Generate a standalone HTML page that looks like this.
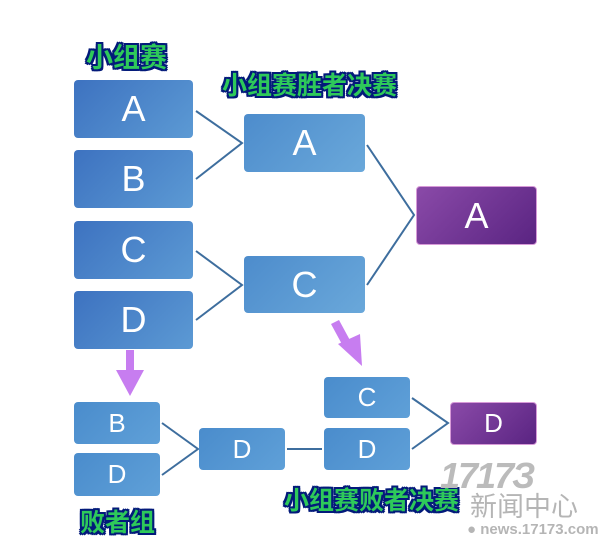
<!DOCTYPE html>
<html><head><meta charset="utf-8"><style>
body{margin:0;width:610px;height:556px;background:#fff;position:relative;overflow:hidden;font-family:"Liberation Sans","Noto Sans CJK SC",sans-serif}
.b{position:absolute;color:#fff;display:flex;align-items:center;justify-content:center;border-radius:4px;background:linear-gradient(135deg,#3d72c0,#5c9ad4);font-size:36px}
.m{background:linear-gradient(135deg,#4d8ccc,#6aa8da)}
.s{font-size:26px;background:linear-gradient(135deg,#4a8ccc,#5fa0d8)}
.p{background:linear-gradient(135deg,#8a4aa8,#5a2482);border:1px solid #d79ad8}
.t{position:absolute;font-weight:bold;color:#2ec95a;font-family:"Noto Sans CJK SC",sans-serif;white-space:nowrap;
text-shadow:2px 0 #031a7a,-2px 0 #031a7a,0 2px #031a7a,0 -2px #031a7a,2px 2px #031a7a,-2px -2px #031a7a,2px -2px #031a7a,-2px 2px #031a7a}
</style></head><body>
<svg width="610" height="556" style="position:absolute;left:0;top:0">
<g stroke="#3e6e9e" stroke-width="2" fill="none">
<polyline points="196,111 242,143 196,179"/>
<polyline points="196,251 242,285 196,320"/>
<polyline points="367,145 414,215 367,285"/>
<polyline points="162,423 198,449 162,475"/>
<line x1="287" y1="449" x2="322" y2="449"/>
<polyline points="412,398 448,423 412,449"/>
</g>
<g fill="#c77df0">
<rect x="126" y="350" width="8" height="22"/><polygon points="116,370 144,370 130,396"/>
<polygon points="331,324 339,320 352,344 344,348"/><polygon points="338,344 360,334 362,366"/>
</g>
</svg>
<div class="b" style="left:74px;top:80px;width:119px;height:58px">A</div>
<div class="b" style="left:74px;top:150px;width:119px;height:58px">B</div>
<div class="b" style="left:74px;top:221px;width:119px;height:58px">C</div>
<div class="b" style="left:74px;top:291px;width:119px;height:58px">D</div>
<div class="b m" style="left:244px;top:114px;width:121px;height:58px">A</div>
<div class="b m" style="left:244px;top:256px;width:121px;height:57px">C</div>
<div class="b p" style="left:416px;top:186px;width:119px;height:57px">A</div>
<div class="b s" style="left:74px;top:402px;width:86px;height:42px">B</div>
<div class="b s" style="left:74px;top:453px;width:86px;height:43px">D</div>
<div class="b s" style="left:199px;top:428px;width:86px;height:42px">D</div>
<div class="b s" style="left:324px;top:377px;width:86px;height:41px">C</div>
<div class="b s" style="left:324px;top:428px;width:86px;height:42px">D</div>
<div class="b s p" style="left:450px;top:402px;width:85px;height:41px">D</div>
<div class="t" style="left:86px;top:36px;font-size:27px">小组赛</div>
<div class="t" style="left:222px;top:66px;font-size:25px">小组赛胜者决赛</div>
<div class="t" style="left:80px;top:503px;font-size:25px">败者组</div>
<div class="t" style="left:284px;top:481px;font-size:25px">小组赛败者决赛</div>
<div style="position:absolute;left:440px;top:455px;color:#bbb;font-size:36px;font-weight:bold;letter-spacing:-2px;font-style:italic">1717З</div>
<div style="position:absolute;left:470px;top:490px;color:#b5b5b5;font-size:27px;font-family:'Noto Sans CJK SC',sans-serif;line-height:30px">新闻中心</div>
<div style="position:absolute;left:467px;top:521px;color:#b5b5b5;font-size:15px;font-weight:bold">● news.17173.com</div>
</body></html>
